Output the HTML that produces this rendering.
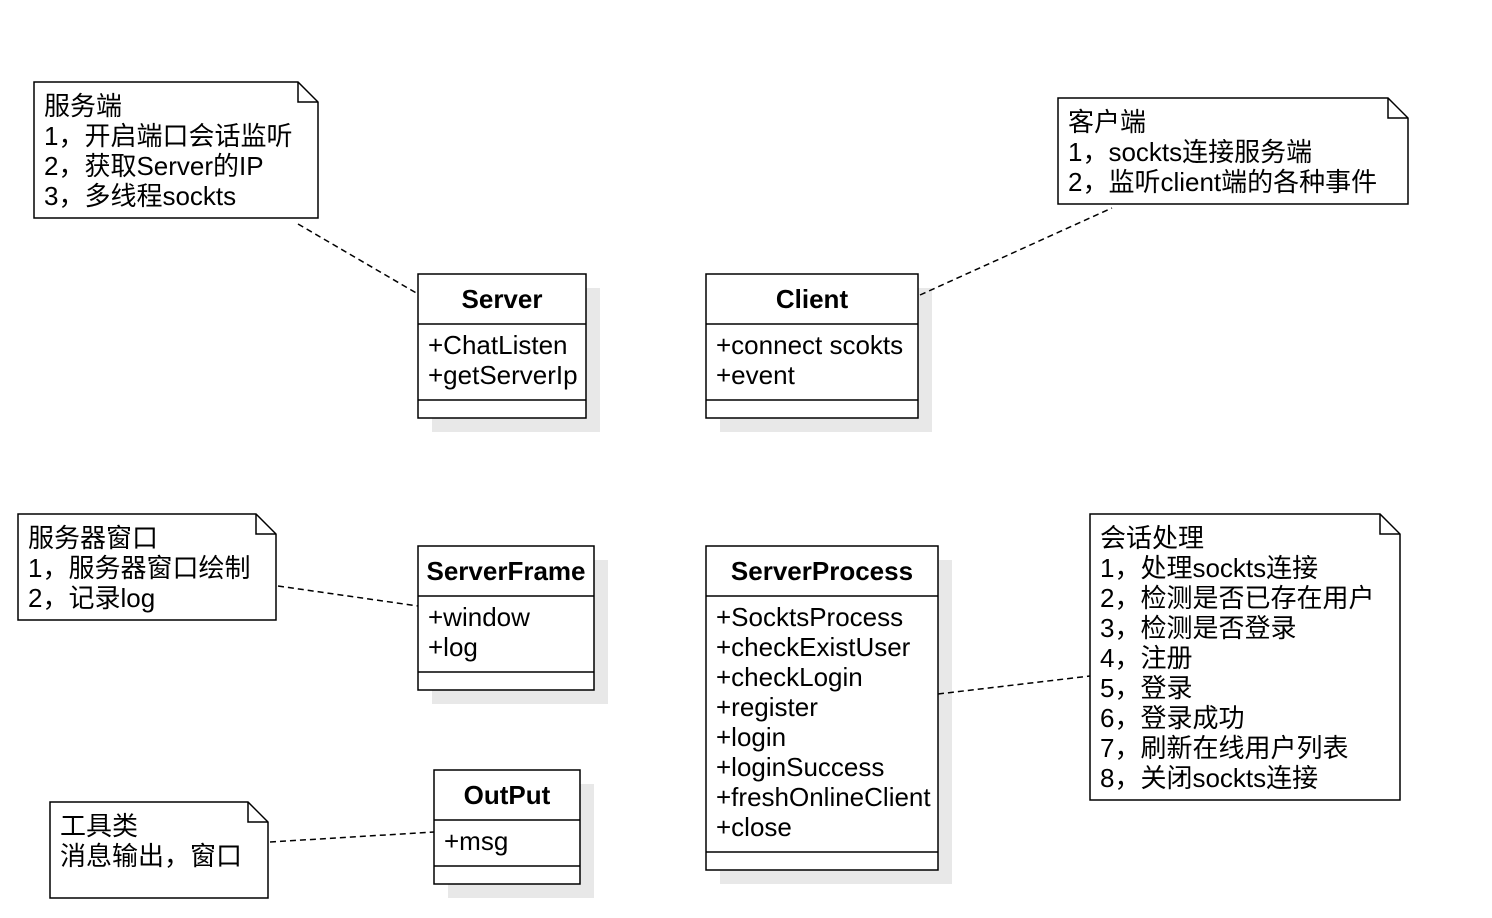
<!DOCTYPE html>
<html><head><meta charset="utf-8"><style>
html,body{margin:0;padding:0;background:#fff;}
svg{display:block;}
text{font-family:"Liberation Sans","Noto Sans CJK SC",sans-serif;font-size:26px;fill:#000;}
.b{font-weight:bold;}
</style></head><body>
<svg width="1492" height="918" viewBox="0 0 1492 918" xmlns="http://www.w3.org/2000/svg">
<g fill="#e8e8e8">
<rect x="432" y="288" width="168" height="144"/>
<rect x="720" y="288" width="212" height="144"/>
<rect x="432" y="560" width="176" height="144"/>
<rect x="720" y="560" width="232" height="324"/>
<rect x="448" y="784" width="146" height="114"/>
</g>
<g fill="#fff" stroke="#000" stroke-width="1.5">
<rect x="418" y="274" width="168" height="144"/>
<line x1="418" y1="324" x2="586" y2="324"/><line x1="418" y1="400" x2="586" y2="400"/>
<rect x="706" y="274" width="212" height="144"/>
<line x1="706" y1="324" x2="918" y2="324"/><line x1="706" y1="400" x2="918" y2="400"/>
<rect x="418" y="546" width="176" height="144"/>
<line x1="418" y1="596" x2="594" y2="596"/><line x1="418" y1="672" x2="594" y2="672"/>
<rect x="706" y="546" width="232" height="324"/>
<line x1="706" y1="596" x2="938" y2="596"/><line x1="706" y1="852" x2="938" y2="852"/>
<rect x="434" y="770" width="146" height="114"/>
<line x1="434" y1="820" x2="580" y2="820"/><line x1="434" y1="866" x2="580" y2="866"/>
</g>
<g fill="#fff" stroke="#000" stroke-width="1.5">
<path d="M34 82 H298 L318 102 V218 H34 Z"/><path d="M298 82 V102 H318" fill="none"/>
<path d="M1058 98 H1388 L1408 118 V204 H1058 Z"/><path d="M1388 98 V118 H1408" fill="none"/>
<path d="M18 514 H256 L276 534 V620 H18 Z"/><path d="M256 514 V534 H276" fill="none"/>
<path d="M1090 514 H1380 L1400 534 V800 H1090 Z"/><path d="M1380 514 V534 H1400" fill="none"/>
<path d="M50 802 H248 L268 822 V898 H50 Z"/><path d="M248 802 V822 H268" fill="none"/>
</g>
<g stroke="#000" stroke-width="1.5" stroke-dasharray="6,4" fill="none">
<line x1="298" y1="224" x2="418" y2="294"/>
<line x1="920" y1="295" x2="1112" y2="208"/>
<line x1="278" y1="586" x2="418" y2="606"/>
<line x1="938" y1="694" x2="1090" y2="676"/>
<line x1="270" y1="842" x2="434" y2="832"/>
</g>
<text class="b" x="502" y="308" text-anchor="middle">Server</text>
<text x="428" y="354">+ChatListen</text>
<text x="428" y="384">+getServerIp</text>
<text class="b" x="812" y="308" text-anchor="middle">Client</text>
<text x="716" y="354">+connect scokts</text>
<text x="716" y="384">+event</text>
<text class="b" x="506" y="580" text-anchor="middle">ServerFrame</text>
<text x="428" y="626">+window</text>
<text x="428" y="656">+log</text>
<text class="b" x="822" y="580" text-anchor="middle">ServerProcess</text>
<text x="716" y="626">+SocktsProcess</text>
<text x="716" y="656">+checkExistUser</text>
<text x="716" y="686">+checkLogin</text>
<text x="716" y="716">+register</text>
<text x="716" y="746">+login</text>
<text x="716" y="776">+loginSuccess</text>
<text x="716" y="806">+freshOnlineClient</text>
<text x="716" y="836">+close</text>
<text class="b" x="507" y="804" text-anchor="middle">OutPut</text>
<text x="444" y="850">+msg</text>
<text x="44" y="115">服务端</text>
<text x="44" y="145">1，开启端口会话监听</text>
<text x="44" y="175">2，获取Server的IP</text>
<text x="44" y="205">3，多线程sockts</text>
<text x="1068" y="131">客户端</text>
<text x="1068" y="161">1，sockts连接服务端</text>
<text x="1068" y="191">2，监听client端的各种事件</text>
<text x="28" y="547">服务器窗口</text>
<text x="28" y="577">1，服务器窗口绘制</text>
<text x="28" y="607">2，记录log</text>
<text x="1100" y="547">会话处理</text>
<text x="1100" y="577">1，处理sockts连接</text>
<text x="1100" y="607">2，检测是否已存在用户</text>
<text x="1100" y="637">3，检测是否登录</text>
<text x="1100" y="667">4，注册</text>
<text x="1100" y="697">5，登录</text>
<text x="1100" y="727">6，登录成功</text>
<text x="1100" y="757">7，刷新在线用户列表</text>
<text x="1100" y="787">8，关闭sockts连接</text>
<text x="60" y="835">工具类</text>
<text x="60" y="865">消息输出，窗口</text>
</svg>
</body></html>
